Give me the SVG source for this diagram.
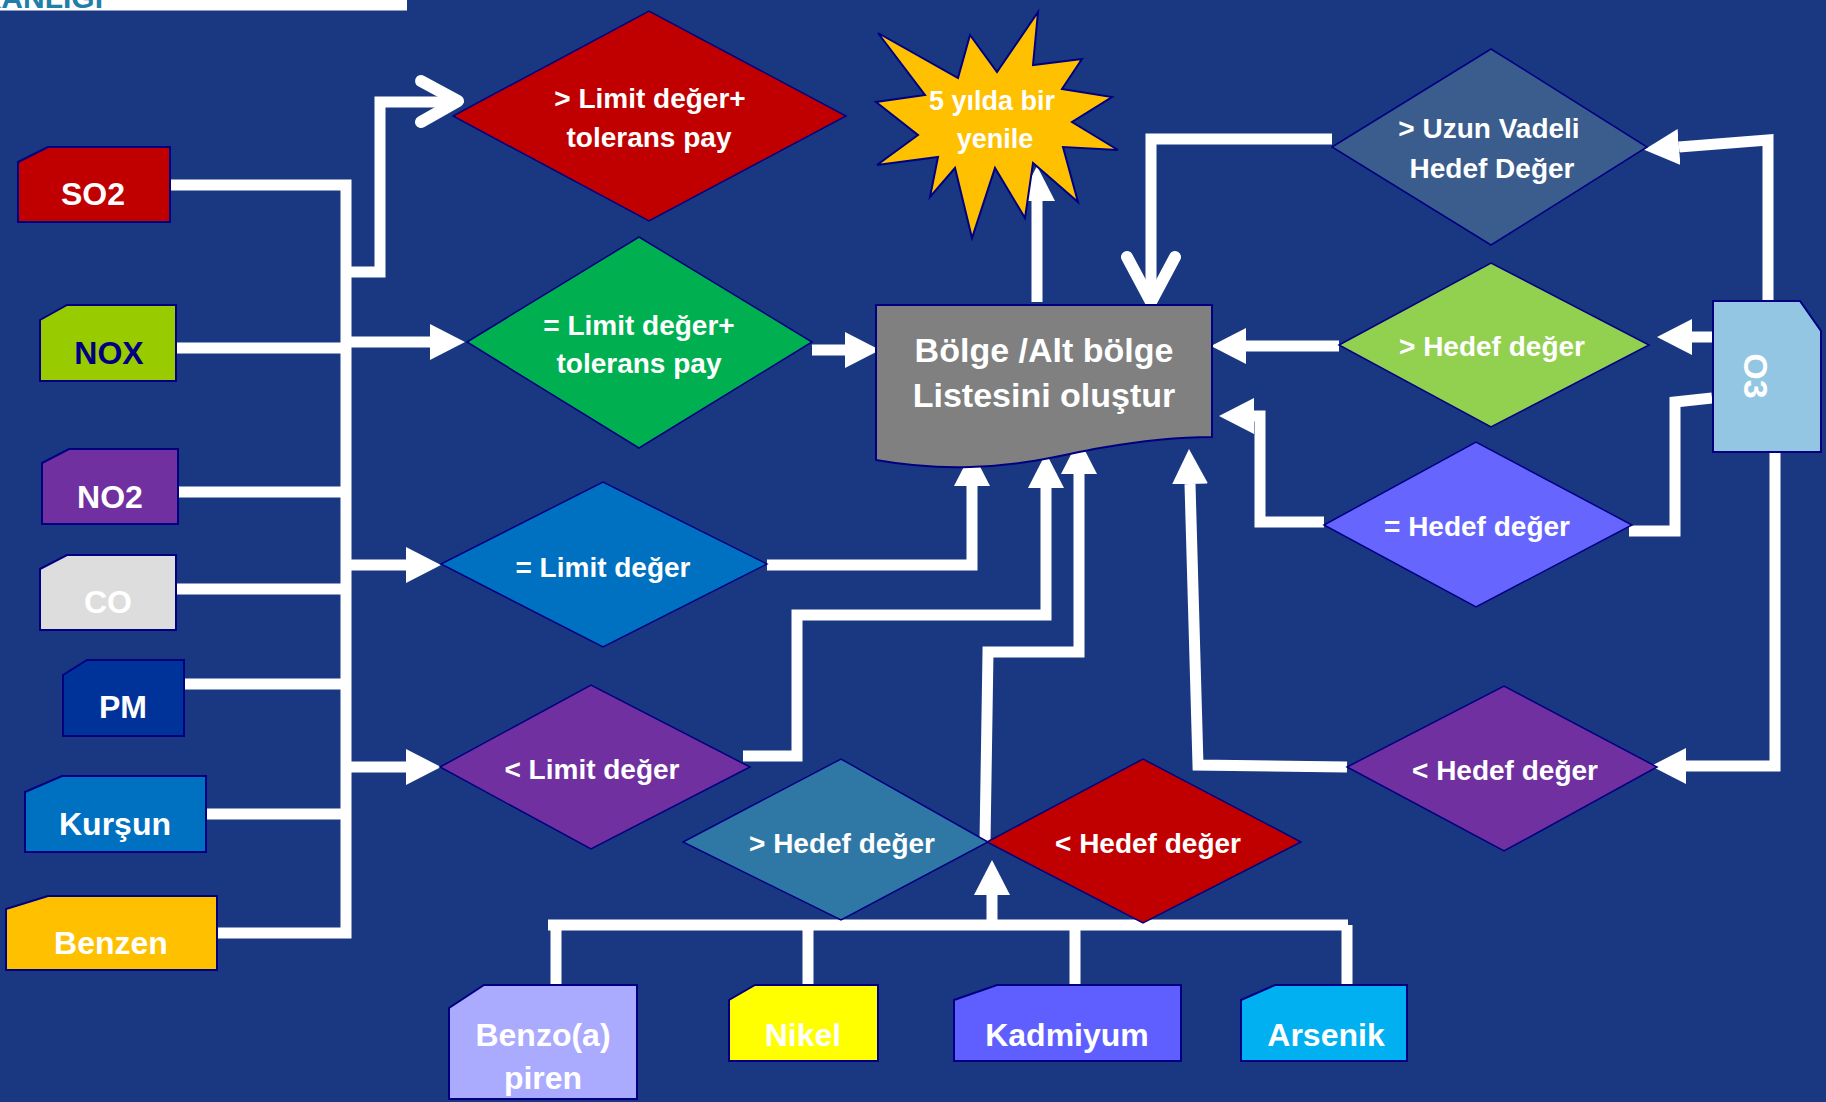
<svg xmlns="http://www.w3.org/2000/svg" width="1826" height="1102" viewBox="0 0 1826 1102">
<style>
.n{stroke:#000080;stroke-width:2}
.d{stroke:#000080;stroke-width:1.5}
.t{font-family:"Liberation Sans",Arial,sans-serif;font-weight:bold;fill:#fff;text-anchor:middle}
.s32{font-size:32px}
.s28{font-size:28px}
.c{fill:none;stroke:#fff;stroke-width:11;stroke-linejoin:miter}
.v{fill:none;stroke:#fff;stroke-width:12;stroke-linecap:round;stroke-linejoin:round}
</style>
<defs>
<marker id="ah" markerUnits="userSpaceOnUse" markerWidth="36" markerHeight="36" refX="0" refY="18" orient="auto" viewBox="0 0 36 36"><path d="M0,0 L35,18 L0,36 Z" fill="#fff"/></marker>
</defs>
<rect x="0" y="0" width="1826" height="1102" fill="#1A3882"/>
<g id="header">
<rect x="0" y="0" width="407" height="10.5" fill="#fff"/>
<text x="103" y="8" style="font-family:'Liberation Sans',Arial,sans-serif;font-weight:bold;font-size:30px;fill:#1F7FA8;text-anchor:end">BAKANLIĞI</text>
</g>

<g id="connectors">
<path class="c" d="M170,185 H346 V933 H217"/>
<path class="c" d="M176,348 H346"/>
<path class="c" d="M178,492 H346"/>
<path class="c" d="M176,589 H346"/>
<path class="c" d="M184,684 H346"/>
<path class="c" d="M206,814 H346"/>
<path class="c" d="M346,272 H380 V102 H455"/>
<path class="v" d="M421,81 L458,101 L421,122"/>
<path class="c" d="M346,342 H430" marker-end="url(#ah)"/>
<path class="c" d="M346,565 H406" marker-end="url(#ah)"/>
<path class="c" d="M346,767 H406" marker-end="url(#ah)"/>
<path class="c" d="M812,350 H845" marker-end="url(#ah)"/>
<path class="c" d="M767,565 H972 V486" marker-end="url(#ah)"/>
<path class="c" d="M743,756 H797 V615 H1046 V488" marker-end="url(#ah)"/>
<path class="c" d="M985,842 L988,652 H1079 V474" marker-end="url(#ah)"/>
<path class="c" d="M1347,767 L1198,765 L1190,484" marker-end="url(#ah)"/>
<path class="c" d="M1037,302 V201" marker-end="url(#ah)"/>
<path class="c" d="M1332,139 H1151 V300"/>
<path class="v" d="M1127,257 L1151,302 L1175,257"/>
<path class="c" d="M1339,346 H1246" marker-end="url(#ah)"/>
<path class="c" d="M1324,522 H1260 V416 H1254" marker-end="url(#ah)"/>
<path class="c" d="M1629,531 H1675 V402 L1712,398"/>
<path class="c" d="M1713,337 H1692" marker-end="url(#ah)"/>
<path class="c" d="M1768,301 V140 L1679,147" marker-end="url(#ah)"/>
<path class="c" d="M1775,447 V766 H1686" marker-end="url(#ah)"/>
<path class="c" d="M548,925 H1348"/>
<path class="c" d="M556,925 V994"/>
<path class="c" d="M808,925 V985"/>
<path class="c" d="M1075,925 V985"/>
<path class="c" d="M1347,925 V985"/>
<path class="c" d="M992,925 V895" marker-end="url(#ah)"/>
</g>

<g id="so2"><path class="n" fill="#C00000" d="M18,162 L48,147 H170 V222 H18 Z"/><text class="t s32" x="93" y="205">SO2</text></g>
<g id="nox"><path class="n" fill="#99CC00" d="M40,320 L67,305 H176 V381 H40 Z"/><text class="t s32" x="109" y="364" style="fill:#000080">NOX</text></g>
<g id="no2"><path class="n" fill="#7030A0" d="M42,463 L69,449 H178 V524 H42 Z"/><text class="t s32" x="110" y="508">NO2</text></g>
<g id="co"><path class="n" fill="#DDDDDD" d="M40,569 L67,555 H176 V630 H40 Z"/><text class="t s32" x="108" y="613">CO</text></g>
<g id="pm"><path class="n" fill="#003399" d="M63,675 L87,660 H184 V736 H63 Z"/><text class="t s32" x="123" y="718">PM</text></g>
<g id="kursun"><path class="n" fill="#0070C0" d="M25,792 L62,776 H206 V852 H25 Z"/><text class="t s32" x="115" y="835">Kurşun</text></g>
<g id="benzen"><path class="n" fill="#FFC000" d="M6,909 L48,896 H217 V970 H6 Z"/><text class="t s32" x="111" y="954">Benzen</text></g>

<g id="gt-limit-tol"><path class="d" fill="#C00000" d="M453,116 L649,11 L846,116 L649,221 Z"/><text class="t s28" x="650" y="108">&gt; Limit değer+</text><text class="t s28" x="649" y="147">tolerans pay</text></g>
<g id="eq-limit-tol"><path class="d" fill="#00B050" d="M467,342 L639,237 L812,342 L639,448 Z"/><text class="t s28" x="639" y="335">= Limit değer+</text><text class="t s28" x="639" y="373">tolerans pay</text></g>
<g id="eq-limit"><path class="d" fill="#0070C0" d="M441,564 L603,482 L767,564 L603,647 Z"/><text class="t s28" x="603" y="577">= Limit değer</text></g>
<g id="lt-limit"><path class="d" fill="#7030A0" d="M440,767 L591,685 L750,767 L591,849 Z"/><text class="t s28" x="592" y="779">&lt; Limit değer</text></g>
<g id="gt-hedef-b"><path class="d" fill="#2F78A6" d="M683,842 L841,759 L988,842 L841,920 Z"/><text class="t s28" x="842" y="853">&gt; Hedef değer</text></g>
<g id="lt-hedef-b"><path class="d" fill="#C00000" d="M987,842 L1143,759 L1301,842 L1143,923 Z"/><text class="t s28" x="1148" y="853">&lt; Hedef değer</text></g>

<g id="bolge"><path class="n" fill="#808080" d="M876,305 H1212 V437 C1180,437 1140,441 1100,448 C1060,455 1030,465 970,467 C940,468 910,466 876,460 Z"/><text class="t" style="font-size:34px" x="1044" y="362">Bölge /Alt bölge</text><text class="t" style="font-size:34px" x="1044" y="407">Listesini oluştur</text></g>

<g id="yenile"><polygon class="n" fill="#FFC000" points="878,33 958,78 970,35 997,72 1038,12 1033,65 1082,59 1062,89 1112,97 1072,122 1118,150 1063,147 1078,202 1033,163 1025,218 995,168 972,238 955,168 930,197 938,157 877,165 918,135 876,102 925,95"/><text class="t" style="font-size:27px" x="992" y="110">5 yılda bir</text><text class="t" style="font-size:27px" x="995" y="148">yenile</text></g>

<g id="uzun-vadeli"><path class="d" fill="#3A5D8E" d="M1332,147 L1491,49 L1647,147 L1491,245 Z"/><text class="t s28" x="1489" y="138">&gt; Uzun Vadeli</text><text class="t s28" x="1492" y="178">Hedef Değer</text></g>
<g id="gt-hedef"><path class="d" fill="#92D050" d="M1339,345 L1491,263 L1649,345 L1491,427 Z"/><text class="t s28" x="1492" y="356">&gt; Hedef değer</text></g>
<g id="eq-hedef"><path class="d" fill="#6666FF" d="M1324,525 L1476,442 L1632,525 L1476,607 Z"/><text class="t s28" x="1477" y="536">= Hedef değer</text></g>
<g id="lt-hedef"><path class="d" fill="#7030A0" d="M1347,767 L1504,686 L1657,767 L1504,851 Z"/><text class="t s28" x="1505" y="780">&lt; Hedef değer</text></g>

<g id="o3"><path class="n" fill="#93C6E2" d="M1713,301 H1800 L1821,331 V452 H1713 Z"/><text class="t" style="font-size:34px" transform="translate(1744,376) rotate(90)" x="0" y="0">O3</text></g>

<g id="benzo-a-piren"><path class="n" fill="#AAAAFF" d="M449,1008 L484,985 H637 V1099 H449 Z"/><text class="t s32" x="543" y="1046">Benzo(a)</text><text class="t s32" x="543" y="1089">piren</text></g>
<g id="nikel"><path class="n" fill="#FFFF00" d="M729,1000 L755,985 H878 V1061 H729 Z"/><text class="t s32" x="803" y="1046">Nikel</text></g>
<g id="kadmiyum"><path class="n" fill="#5F5FFF" d="M954,1000 L997,985 H1181 V1061 H954 Z"/><text class="t s32" x="1067" y="1046">Kadmiyum</text></g>
<g id="arsenik"><path class="n" fill="#00B0F0" d="M1241,1000 L1275,985 H1407 V1061 H1241 Z"/><text class="t s32" x="1326" y="1046">Arsenik</text></g>
</svg>
